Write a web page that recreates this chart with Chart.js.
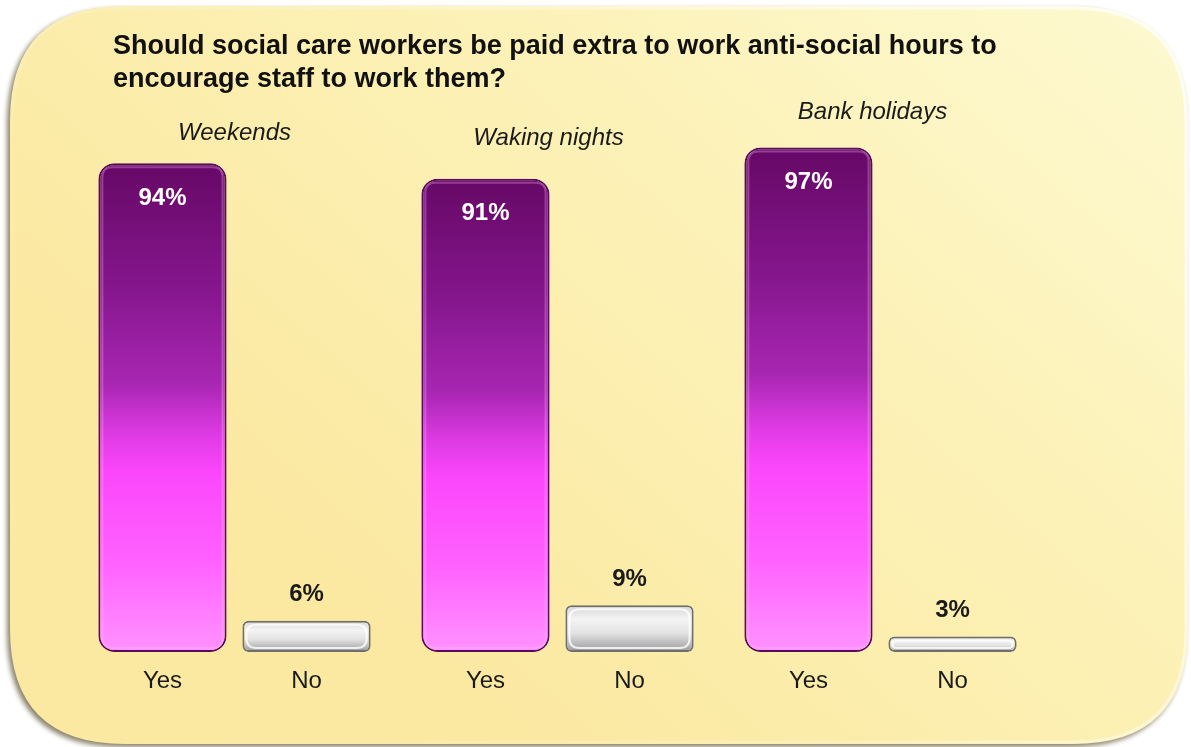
<!DOCTYPE html>
<html>
<head>
<meta charset="utf-8">
<script src="https://cdn.jsdelivr.net/npm/chart.js@4.4.1/dist/chart.umd.min.js"></script>
<style>
  html, body { margin: 0; padding: 0; background: #ffffff; }
  #wrap { width: 1191px; height: 747px; }
</style>
</head>
<body>
<div id="wrap"><canvas id="barChart" width="1191" height="747"></canvas></div>
<script>
const titleLines = [
    "Should social care workers be paid extra to work anti-social hours to",
    "encourage staff to work them?"
];
const groups = ["Weekends", "Waking nights", "Bank holidays"];
const answers = ["Yes", "No"];
const yesValues = [94, 91, 97];
const noValues = [6, 9, 3];

const FONT = "'Liberation Sans', Arial, Helvetica, sans-serif";

// nudges for the group captions, which sit a little unevenly over the bars
const captionDx = [0, -9, -8];
const captionDy = [-30, -40, -35];

function roundRectPath(ctx, x, y, w, h, r) {
    ctx.beginPath();
    ctx.moveTo(x + r, y);
    ctx.lineTo(x + w - r, y);
    ctx.quadraticCurveTo(x + w, y, x + w, y + r);
    ctx.lineTo(x + w, y + h - r);
    ctx.quadraticCurveTo(x + w, y + h, x + w - r, y + h);
    ctx.lineTo(x + r, y + h);
    ctx.quadraticCurveTo(x, y + h, x, y + h - r);
    ctx.lineTo(x, y + r);
    ctx.quadraticCurveTo(x, y, x + r, y);
    ctx.closePath();
}

// yellow rounded panel behind everything, plus the heading
const panelPlugin = {
    id: 'panel',
    beforeDraw(chart) {
        const ctx = chart.ctx;
        ctx.save();
        ctx.fillStyle = '#ffffff';
        ctx.fillRect(0, 0, chart.width, chart.height);

        const x = 10, y = 6, w = 1178, h = 738, r = 115;
        ctx.shadowColor = 'rgba(60, 50, 10, 0.6)';
        ctx.shadowBlur = 5;
        ctx.shadowOffsetX = -3;
        ctx.shadowOffsetY = 3;
        const bg = ctx.createLinearGradient(x + w, y, x + w * 0.45, y + h);
        bg.addColorStop(0, '#fdf9d0');
        bg.addColorStop(0.5, '#fcf1b6');
        bg.addColorStop(1, '#fbe9a2');
        ctx.fillStyle = bg;
        roundRectPath(ctx, x, y, w, h, r);
        ctx.fill();
        ctx.shadowColor = 'transparent';

        // light rim, strongest on the upper right
        const rim = ctx.createLinearGradient(x + w, y, x, y + h);
        rim.addColorStop(0, 'rgba(255, 255, 255, 0.85)');
        rim.addColorStop(0.5, 'rgba(255, 255, 255, 0.2)');
        rim.addColorStop(1, 'rgba(255, 255, 255, 0)');
        ctx.strokeStyle = rim;
        ctx.lineWidth = 3;
        roundRectPath(ctx, x + 2, y + 2, w - 4, h - 4, r - 2);
        ctx.stroke();
        ctx.restore();

        ctx.save();
        ctx.fillStyle = '#111111';
        ctx.font = 'bold 27px ' + FONT;
        ctx.textBaseline = 'middle';
        ctx.textAlign = 'left';
        ctx.fillText(titleLines[0], 113, 47);
        ctx.fillText(titleLines[1], 113, 80);
        ctx.restore();
    }
};

// answer names under the bars, values on the bars, group names above
const labelPlugin = {
    id: 'labels',
    afterDatasetsDraw(chart) {
        const ctx = chart.ctx;
        const yesMeta = chart.getDatasetMeta(0);
        const noMeta = chart.getDatasetMeta(1);
        ctx.save();
        ctx.textAlign = 'center';
        ctx.textBaseline = 'middle';

        [yesMeta, noMeta].forEach((meta, di) => {
            meta.data.forEach((bar, i) => {
                const props = bar.getProps(['x', 'y', 'base', 'width']);
                // soft highlight inside the bar edge
                ctx.strokeStyle = di === 0 ? 'rgba(255, 190, 255, 0.3)' : 'rgba(255, 255, 255, 0.8)';
                ctx.lineWidth = 2;
                const inset = 4;
                const bh = props.base - props.y;
                roundRectPath(ctx, props.x - props.width / 2 + inset, props.y + inset,
                    props.width - inset * 2, Math.max(bh - inset * 2, 2), Math.min(10, Math.max(bh / 2 - inset, 1)));
                ctx.stroke();

                const v = chart.data.datasets[di].data[i];
                ctx.font = 'bold 24px ' + FONT;
                if (di === 0) {
                    ctx.fillStyle = '#ffffff';
                    ctx.fillText(v + '%', props.x, props.y + 35);
                } else {
                    ctx.fillStyle = '#1a1a1a';
                    ctx.fillText(v + '%', props.x, props.y - 26);
                }
                ctx.font = '24px ' + FONT;
                ctx.fillStyle = '#1a1a1a';
                ctx.fillText(answers[di], props.x, props.base + 29);
            });
        });

        yesMeta.data.forEach((bar, i) => {
            const xs = chart.scales.x.getPixelForValue(i);
            ctx.font = 'italic 24px ' + FONT;
            ctx.fillStyle = '#1a1a1a';
            ctx.fillText(groups[i], xs + captionDx[i], bar.y + captionDy[i]);
        });
        ctx.restore();
    }
};

function barGradient(context, stops) {
    const chart = context.chart;
    if (!chart.chartArea) return stops[0][1];
    const yScale = chart.scales.y;
    const v = context.raw || 0;
    const top = yScale.getPixelForValue(v);
    const bottom = yScale.getPixelForValue(0);
    const g = chart.ctx.createLinearGradient(0, top, 0, bottom);
    stops.forEach(s => g.addColorStop(s[0], s[1]));
    return g;
}

const yesStops = [
    [0, '#660866'], [0.25, '#84168c'], [0.45, '#a826b2'], [0.55, '#dc3ae2'],
    [0.63, '#fb46fb'], [0.82, '#ff62ff'], [1, '#ff92ff']
];
const noStops = [
    [0, '#d6d6d6'], [0.3, '#f4f4f4'], [0.6, '#e2e2e2'], [1, '#9a9a9a']
];

const ctx = document.getElementById('barChart').getContext('2d');
new Chart(ctx, {
    type: 'bar',
    data: {
        labels: groups,
        datasets: [
            {
                label: answers[0],
                data: yesValues,
                backgroundColor: c => barGradient(c, yesStops),
                borderColor: '#5a0a5e',
                borderWidth: 2,
                borderRadius: 16,
                borderSkipped: false
            },
            {
                label: answers[1],
                data: noValues,
                backgroundColor: c => barGradient(c, noStops),
                borderColor: '#6e6e6e',
                borderWidth: 2,
                borderRadius: 6,
                borderSkipped: false
            }
        ]
    },
    options: {
        responsive: false,
        animation: false,
        layout: {
            padding: { left: 73, right: 149, top: 132, bottom: 95 }
        },
        categoryPercentage: 0.892,
        barPercentage: 0.89,
        plugins: {
            legend: { display: false },
            tooltip: { enabled: false },
            title: { display: false }
        },
        scales: {
            x: { display: false },
            y: { display: false, min: 0, max: 100 }
        }
    },
    plugins: [panelPlugin, labelPlugin]
});
</script>
</body>
</html>
